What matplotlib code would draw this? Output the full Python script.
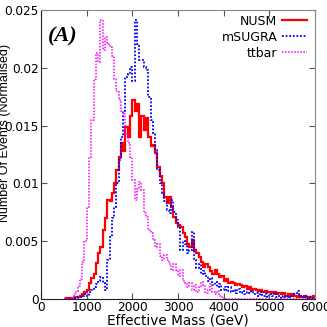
import numpy as np
import matplotlib
matplotlib.use('Agg')
import matplotlib.pyplot as plt

# bin edges: 50 GeV bins from 500 to 6000 GeV
edges = np.arange(500, 6001, 50)

# normalised event counts (one value per bin)
nusm = [0, 0.0001, 0.0001, 0.0001, 0.0001, 0.0002, 0.0002, 0.0003, 0.0004, 0.0006,
        0.0008, 0.0014, 0.0018, 0.0022, 0.0031, 0.0040, 0.0045, 0.0060, 0.0070, 0.0086,
        0.0085, 0.0092, 0.0100, 0.0112, 0.0123, 0.0135, 0.0128, 0.0149, 0.0140, 0.0158,
        0.0172, 0.0163, 0.0169, 0.0140, 0.0158, 0.0146, 0.0157, 0.0140, 0.0132, 0.0133,
        0.0126, 0.0114, 0.0106, 0.0100, 0.0088, 0.0083, 0.0088, 0.0080, 0.0071, 0.0066,
        0.0064, 0.0062, 0.0057, 0.0054, 0.0048, 0.0045, 0.0051, 0.0042, 0.0040, 0.0036,
        0.0032, 0.0028, 0.0030, 0.0028, 0.0024, 0.0022, 0.0025, 0.0022, 0.0019, 0.0020,
        0.0016, 0.0017, 0.0014, 0.0015, 0.0014, 0.0012, 0.0013, 0.0012, 0.0010, 0.0011,
        0.0009, 0.0010, 0.0008, 0.0009, 0.0008, 0.0007, 0.0008, 0.0006, 0.0007, 0.0006,
        0.0006, 0.0005, 0.0006, 0.0004, 0.0005, 0.0004, 0.0005, 0.0003, 0.0004, 0.0003,
        0.0004, 0.0003, 0.0002, 0.0003, 0.0002, 0.0003, 0.0002, 0.0001, 0.0002, 0.0003]

msugra = [0, 0, 0, 0, 0, 0.0001, 0.0002, 0.0002, 0.0003, 0.0004,
          0.0003, 0.0006, 0.0008, 0.0010, 0.0013, 0.0016, 0.0019, 0.0014, 0.0008, 0.0034,
          0.0054, 0.0070, 0.0080, 0.0100, 0.0120, 0.0140, 0.0163, 0.0192, 0.0195, 0.0201,
          0.0189, 0.0241, 0.0221, 0.0207, 0.0207, 0.0201, 0.0198, 0.0175, 0.0155, 0.0144,
          0.0129, 0.0112, 0.0100, 0.0092, 0.0085, 0.0077, 0.0074, 0.0086, 0.0075, 0.0068,
          0.0062, 0.0042, 0.0050, 0.0048, 0.0040, 0.0042, 0.0058, 0.0034, 0.0027, 0.0030,
          0.0022, 0.0024, 0.0020, 0.0016, 0.0018, 0.0012, 0.0015, 0.0010, 0.0013, 0.0008,
          0.0010, 0.0007, 0.0010, 0.0006, 0.0008, 0.0005, 0.0009, 0.0005, 0.0007, 0.0004,
          0.0006, 0.0005, 0.0007, 0.0004, 0.0005, 0.0003, 0.0006, 0.0003, 0.0004, 0.0002,
          0.0004, 0.0003, 0.0005, 0.0002, 0.0003, 0.0001, 0.0003, 0.0002, 0.0003, 0.0002,
          0.0003, 0.0004, 0.0007, 0.0003, 0.0002, 0.0003, 0.0001, 0.0002, 0.0001, 0.0001]

ttbar = [0, 0, 0, 0, 0.0003, 0.0006, 0.0011, 0.0017, 0.0032, 0.0050,
         0.0080, 0.0123, 0.0155, 0.0190, 0.0213, 0.0205, 0.0241, 0.0215, 0.0227, 0.0221,
         0.0218, 0.0210, 0.0190, 0.0180, 0.0172, 0.0163, 0.0160, 0.0143, 0.0135, 0.0123,
         0.0103, 0.0086, 0.0095, 0.0101, 0.0094, 0.0074, 0.0071, 0.0060, 0.0057, 0.0051,
         0.0045, 0.0048, 0.0037, 0.0034, 0.0038, 0.0034, 0.0030, 0.0025, 0.0030, 0.0025,
         0.0020, 0.0025, 0.0016, 0.0014, 0.0010, 0.0014, 0.0008, 0.0012, 0.0006, 0.0010,
         0.0015, 0.0012, 0.0005, 0.0008, 0.0013, 0.0006, 0.0004, 0.0007, 0.0003, 0.0002,
         0, 0, 0, 0, 0, 0, 0, 0, 0, 0,
         0, 0, 0, 0, 0, 0, 0, 0, 0, 0,
         0, 0, 0, 0, 0, 0, 0, 0, 0, 0,
         0, 0, 0, 0, 0, 0, 0, 0, 0, 0]

xticks = [0, 1000, 2000, 3000, 4000, 5000, 6000]
yticks = [0, 0.005, 0.01, 0.015, 0.02, 0.025]
ytick_labels = ['0', '0.005', '0.01', '0.015', '0.02', '0.025']

fig = plt.figure(figsize=(3.27, 3.27), dpi=100)
ax = fig.add_axes([0.1254, 0.0856, 0.8379, 0.8838])

ax.stairs(nusm, edges, color='#ff0000', lw=1.6, label='NUSM')
ax.stairs(msugra, edges, color='#0000ff', lw=1.3, ls=(0, (1, 1)), label='mSUGRA')
ax.stairs(ttbar, edges, color='#ff00ff', lw=1.1, ls=(0, (1, 1)), label='ttbar')

ax.set_xlim(0, 6000)
ax.set_ylim(0, 0.025)
ax.set_xticks(xticks)
ax.set_yticks(yticks)
ax.set_yticklabels(ytick_labels)

for lab in ax.get_xticklabels() + ax.get_yticklabels():
    lab.set_fontfamily('Liberation Sans Narrow')
    lab.set_fontsize(8.7)
ax.tick_params(direction='in', length=4, width=0.8, top=True, right=True, pad=1.5,
               color='#555555')

for side in ['top', 'right']:
    ax.spines[side].set_color('#888888')
for side in ['left', 'bottom']:
    ax.spines[side].set_color('#222222')

# axis titles placed on the figure, as in the original
fig.text(0.545, 0.019, 'Effective Mass (GeV)', family='Liberation Sans Narrow',
         fontsize=9.8, ha='center', va='center')
fig.text(0.016, 0.593, 'Number Of Events (Normalised)', family='Liberation Sans',
         fontsize=9.0, rotation=90, ha='center', va='center')

ax.text(150, 0.0227, '(A)', family='Liberation Serif', fontsize=16, fontweight='bold',
        style='italic', va='center', ha='left')

leg = ax.legend(loc='upper right', bbox_to_anchor=(1.0, 1.01), frameon=False,
                markerfirst=False, handlelength=2.0, handletextpad=0.4,
                labelspacing=0.25, borderaxespad=0.2,
                prop={'family': 'Liberation Sans Narrow', 'size': 9})

fig.savefig('out.png', dpi=100)
